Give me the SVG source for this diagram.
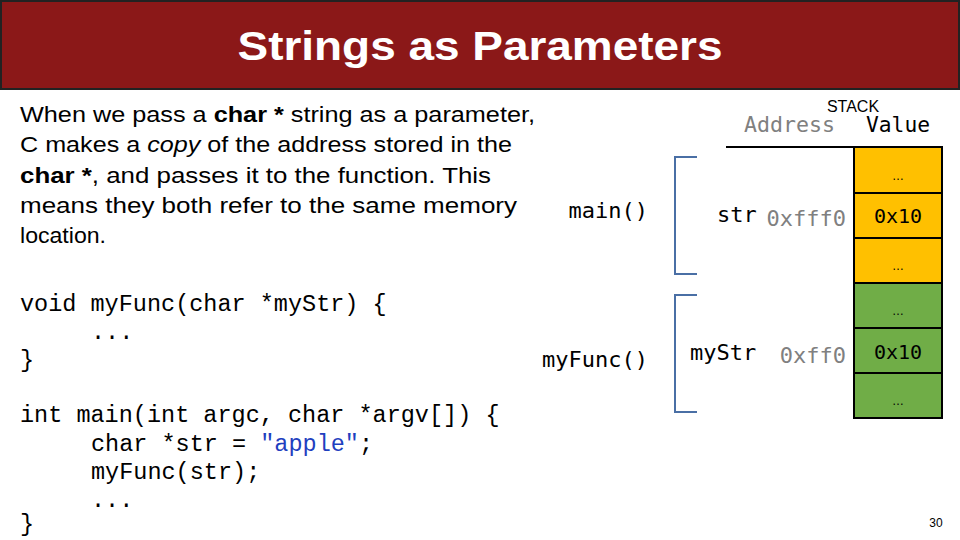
<svg xmlns="http://www.w3.org/2000/svg" width="960" height="540" viewBox="0 0 960 540">
<style>
.p{font-family:"Liberation Sans",Arial,sans-serif;font-size:22px;fill:#000}
.m{font-family:"DejaVu Sans Mono","Liberation Mono",monospace;font-size:22px;fill:#000}
.g{fill:#808080}
.c{font-family:"DejaVu Sans Mono","Liberation Mono",monospace;font-size:20px;text-anchor:middle}
.d{font-family:"Liberation Sans",sans-serif;font-size:12px;text-anchor:middle}
.o{fill:#FFC000;stroke:#000;stroke-width:2}
.gr{fill:#70AD47;stroke:#000;stroke-width:2}
.br{fill:none;stroke:#4A6FA5;stroke-width:2}
#code text{white-space:pre}
</style>
<rect x="1" y="1" width="958" height="88" fill="#8B1818" stroke="#222" stroke-width="2"/>
<text x="480" y="60" text-anchor="middle" font-family="Liberation Sans,sans-serif" font-weight="bold" font-size="40" fill="#fff" textLength="485" lengthAdjust="spacingAndGlyphs">Strings as Parameters</text>
<g id="para">
<text class="p" x="20" y="122" textLength="515" lengthAdjust="spacingAndGlyphs">When we pass a <tspan font-weight="bold">char *</tspan> string as a parameter,</text>
<text class="p" x="20" y="152" textLength="492" lengthAdjust="spacingAndGlyphs">C makes a <tspan font-style="italic">copy</tspan> of the address stored in the</text>
<text class="p" x="20" y="183" textLength="471" lengthAdjust="spacingAndGlyphs"><tspan font-weight="bold">char *</tspan>, and passes it to the function.  This</text>
<text class="p" x="20" y="213" textLength="497" lengthAdjust="spacingAndGlyphs">means they both refer to the same memory</text>
<text class="p" x="20" y="243" textLength="86" lengthAdjust="spacingAndGlyphs">location.</text>
</g>
<g id="code" font-family="Liberation Mono,monospace" font-size="23.5">
<text x="20" y="311">void myFunc(char *myStr) {</text>
<text x="91" y="339">...</text>
<text x="20" y="367">}</text>
<text x="20" y="422">int main(int argc, char *argv[]) {</text>
<text x="91" y="451">char *str = <tspan fill="#1F3FBF">"apple"</tspan>;</text>
<text x="91" y="479">myFunc(str);</text>
<text x="91" y="507">...</text>
<text x="20" y="531">}</text>
</g>
<g id="header">
<text x="853" y="112" text-anchor="middle" font-family="Liberation Sans,sans-serif" font-size="16">STACK</text>
<text class="m g" x="744" y="132" textLength="91" lengthAdjust="spacingAndGlyphs">Address</text>
<text class="m" x="866" y="132" textLength="64" lengthAdjust="spacingAndGlyphs">Value</text>
<line x1="726" y1="147" x2="855" y2="147" stroke="#000" stroke-width="2"/>
</g>
<g id="brackets">
<path class="br" d="M697,157 H675 V274 H697"/>
<path class="br" d="M697,295 H675 V412 H697"/>
</g>
<g id="main-frame">
<text class="m" x="648" y="218" text-anchor="end">main()</text>
<text class="m" x="717" y="222">str</text>
<text class="m g" x="846" y="226" text-anchor="end">0xfff0</text>
<rect class="o" x="854" y="147" width="88" height="46"/>
<rect class="o" x="854" y="193" width="88" height="45"/>
<rect class="o" x="854" y="238" width="88" height="45"/>
<text class="c" x="898" y="223">0x10</text>
<text class="d" x="898" y="180">…</text>
<text class="d" x="898" y="270">…</text>
</g>
<g id="myfunc-frame">
<text class="m" x="648" y="367" text-anchor="end">myFunc()</text>
<text class="m" x="690" y="360">myStr</text>
<text class="m g" x="846" y="363" text-anchor="end">0xff0</text>
<rect class="gr" x="854" y="283" width="88" height="45"/>
<rect class="gr" x="854" y="328" width="88" height="45"/>
<rect class="gr" x="854" y="373" width="88" height="45"/>
<text class="c" x="898" y="359">0x10</text>
<text class="d" x="898" y="315">…</text>
<text class="d" x="898" y="405">…</text>
</g>
<text x="936" y="527" text-anchor="middle" font-family="Liberation Sans,sans-serif" font-size="12">30</text>
</svg>
